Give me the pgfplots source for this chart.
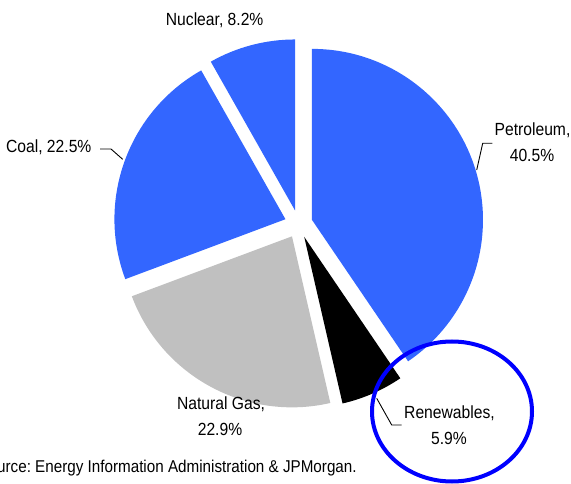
\documentclass[border=0pt]{standalone}
\usepackage{pgfplots}
\usepackage{pgfplotstable}
\pgfplotsset{compat=1.18}
\usepackage{fontspec}
\setmainfont{Liberation Sans}[FakeStretch=0.89]
\definecolor{sliceblue}{RGB}{51,102,255}
\definecolor{slicegray}{RGB}{192,192,192}
\definecolor{ringblue}{RGB}{0,0,255}

\pgfplotstableread{
label value
Petroleum 40.5
Renewables 5.9
NaturalGas 22.9
Coal 22.5
Nuclear 8.2
}\energydata

\newcommand\slice[2]{%
  \fill[#2] (axis cs:\csname ax#1\endcsname,\csname ay#1\endcsname)
    -- ++(\csname sS#1\endcsname:171pt)
    arc[start angle=\csname sS#1\endcsname, end angle=\csname sE#1\endcsname, radius=171pt]
    -- cycle;}

\begin{document}
\frenchspacing
\fontsize{17.6}{20}\selectfont
\begin{tikzpicture}
\path[use as bounding box] (0,0) rectangle (571pt,483pt);
\clip (0,0) rectangle (571pt,483pt);
\gdef\cum{0}
\foreach \i/\n in {0/a,1/b,2/c,3/d,4/e}{%
  \pgfplotstablegetelem{\i}{value}\of\energydata
  \let\val\pgfplotsretval
  \pgfmathsetmacro\sA{90-3.6*\cum}%
  \pgfmathsetmacro\eA{90-3.6*(\cum+\val)}%
  \pgfmathsetmacro\mA{(\sA+\eA)/2}%
  \pgfmathsetmacro\axv{298.6+14*cos(\mA)}%
  \pgfmathsetmacro\ayv{259+14*sin(\mA)}%
  \expandafter\xdef\csname sS\n\endcsname{\sA}%
  \expandafter\xdef\csname sE\n\endcsname{\eA}%
  \expandafter\xdef\csname ax\n\endcsname{\axv}%
  \expandafter\xdef\csname ay\n\endcsname{\ayv}%
  \pgfmathsetmacro\nc{\cum+\val}%
  \xdef\cum{\nc}%
}
\begin{axis}[at={(0,0)}, anchor=south west, x=1pt, y=1pt,
  xmin=0, xmax=571, ymin=0, ymax=483, hide axis, scale only axis, clip=false,
  every node/.append style={font=\fontsize{17.6}{20}\selectfont\frenchspacing, inner sep=0pt}]
\slice{a}{sliceblue}
\slice{b}{black}
\slice{c}{slicegray}
\slice{d}{sliceblue}
\slice{e}{sliceblue}
% leader lines
\draw[black, line width=0.9pt] (axis cs:100,334) -- (axis cs:111,334) -- (axis cs:122.7,323.7);
\draw[black, line width=0.9pt] (axis cs:492.3,339.7) -- (axis cs:482.7,339.7) -- (axis cs:476.7,313);
\draw[black, line width=0.9pt] (axis cs:401.7,58) -- (axis cs:391.7,58) -- (axis cs:376.7,84.7);
% labels
\node[anchor=base east] at (axis cs:269.5,457) {Nuclear, 8.2\%};
\node[anchor=base east] at (axis cs:97.5,330) {Coal, 22.5\%};
\node[anchor=base] at (axis cs:532.5,347) {Petroleum,};
\node[anchor=base] at (axis cs:532,321.3) {40.5\%};
\node[anchor=base] at (axis cs:221,73.7) {Natural Gas,};
\node[anchor=base] at (axis cs:220,48) {22.9\%};
\node[anchor=base] at (axis cs:449.5,64.7) {Renewables,};
\node[anchor=base] at (axis cs:449,38.7) {5.9\%};
\node[anchor=base west, font=\fontsize{17.1}{20}\selectfont\frenchspacing] at (axis cs:-27.5,11) {Source: Energy Information Administration \& JPMorgan.};
% highlight ellipse
\draw[ringblue, line width=4pt] (axis cs:452,71.5) ellipse [x radius=80pt, y radius=70pt];
\end{axis}
\end{tikzpicture}
\end{document}
